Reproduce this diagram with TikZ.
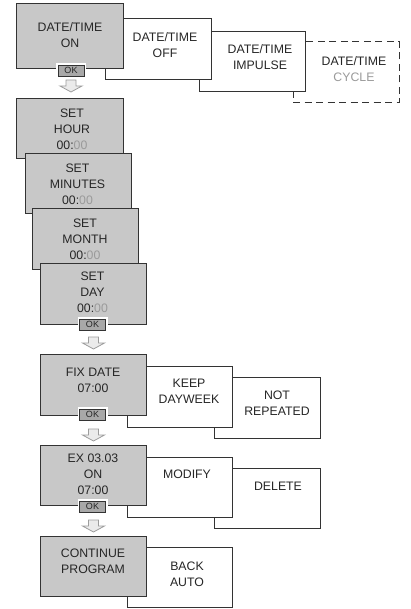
\documentclass[tikz,border=0pt]{standalone}
\usepackage{fontspec}
\setmainfont{Liberation Sans}
\definecolor{boxgray}{HTML}{C8C8C8}
\definecolor{okgray}{HTML}{A8A8A8}
\definecolor{edge}{HTML}{333333}
\definecolor{txt}{HTML}{262626}
\definecolor{lighttxt}{HTML}{9A9A9A}
\definecolor{arrowedge}{HTML}{9C9C9C}
\definecolor{arrowfill}{HTML}{EBEBEB}
\newcommand{\gz}{00:\textcolor{lighttxt}{00}}
\begin{document}
\begin{tikzpicture}[x=1pt,y=-1pt,
 gbox/.style={draw=edge, fill=boxgray, line width=1pt, inner sep=0pt, rectangle},
 wbox/.style={draw=edge, fill=white, line width=1pt, inner sep=0pt, rectangle},
 dbox/.style={wbox, dash pattern=on 7pt off 4.5pt},
 lbl/.style={font=\fontsize{12.3}{16}\selectfont, text=txt, align=center, inner sep=0pt},
 okbtn/.style={draw=edge, fill=okgray, line width=0.8pt, minimum width=26pt, minimum height=11pt, inner sep=0pt, font=\fontsize{9}{9}\selectfont, text=txt, preaction={draw=white, line width=4pt}},
 downarrow/.pic={\draw[draw=arrowedge, fill=arrowfill, line width=0.8pt, line join=miter] (-5,0) -- (5,0) -- (5,6) -- (11,6) -- (0,12) -- (-11,6) -- (-5,6) -- cycle;}
]
\useasboundingbox (0,0) rectangle (411,609);

% top row
\node[dbox, minimum width=106pt, minimum height=61pt] (cyc) at (346,72.5) {};
\node[wbox, minimum width=106pt, minimum height=60pt] (imp) at (252,62) {};
\node[wbox, minimum width=106pt, minimum height=61pt] (off) at (158,49.5) {};
\node[gbox, minimum width=107pt, minimum height=65pt] (on) at (69.5,36.5) {};
\node[lbl] (onT) at (70,35) {DATE/TIME\\ON};
\node[lbl] (offT) at (165,45.5) {DATE/TIME\\OFF};
\node[lbl] (impT) at (260,57.5) {DATE/TIME\\IMPULSE};
\node[lbl] (cycT) at (354,69.5) {DATE/TIME\\\textcolor{lighttxt}{CYCLE}};
\node[okbtn] (ok1) at (71,70.5) {OK};
\pic at (71,80) {downarrow};

% set stack
\node[gbox, minimum width=107pt, minimum height=60pt] (hour) at (69.5,129) {};
\node[lbl] (hourT) at (72,129) {SET\\HOUR\\\gz};
\node[gbox, minimum width=106pt, minimum height=60pt] (minu) at (78,184) {};
\node[lbl] (minuT) at (77.5,184) {SET\\MINUTES\\\gz};
\node[gbox, minimum width=106pt, minimum height=60pt] (month) at (85,239) {};
\node[lbl] (monthT) at (85,239) {SET\\MONTH\\\gz};
\node[gbox, minimum width=106pt, minimum height=61pt] (day) at (93,293.5) {};
\node[lbl] (dayT) at (92.5,292) {SET\\DAY\\\gz};
\node[okbtn] (ok2) at (92.5,324.5) {OK};
\pic at (93.5,337) {downarrow};

% fix date row
\node[wbox, minimum width=106pt, minimum height=61pt] (notrep) at (267,407.5) {};
\node[wbox, minimum width=105pt, minimum height=61pt] (keep) at (179.5,396.5) {};
\node[gbox, minimum width=106pt, minimum height=61pt] (fix) at (93,384.5) {};
\node[lbl] (fixT) at (93,380.5) {FIX DATE\\07:00};
\node[lbl] (keepT) at (189,391) {KEEP\\DAYWEEK};
\node[lbl] (notrepT) at (277,403.5) {NOT\\REPEATED};
\node[okbtn] (ok3) at (92.5,414.5) {OK};
\pic at (93.5,429) {downarrow};

% ex row
\node[wbox, minimum width=106pt, minimum height=60pt] (del) at (267,498) {};
\node[wbox, minimum width=105pt, minimum height=60pt] (modify) at (179.5,487) {};
\node[gbox, minimum width=106pt, minimum height=60pt] (ex) at (93,475) {};
\node[lbl] (exT) at (93,474) {EX 03.03\\ON\\07:00};
\node[lbl] (modifyT) at (187,474) {MODIFY};
\node[lbl] (delT) at (278,486) {DELETE};
\node[okbtn] (ok4) at (92.5,506.5) {OK};
\pic at (93.5,520) {downarrow};

% continue row
\node[wbox, minimum width=105pt, minimum height=60pt] (back) at (179.5,577) {};
\node[gbox, minimum width=106pt, minimum height=60pt] (cont) at (93,566) {};
\node[lbl] (contT) at (93,561.5) {CONTINUE\\PROGRAM};
\node[lbl] (backT) at (187,574) {BACK\\AUTO};
\end{tikzpicture}
\end{document}
